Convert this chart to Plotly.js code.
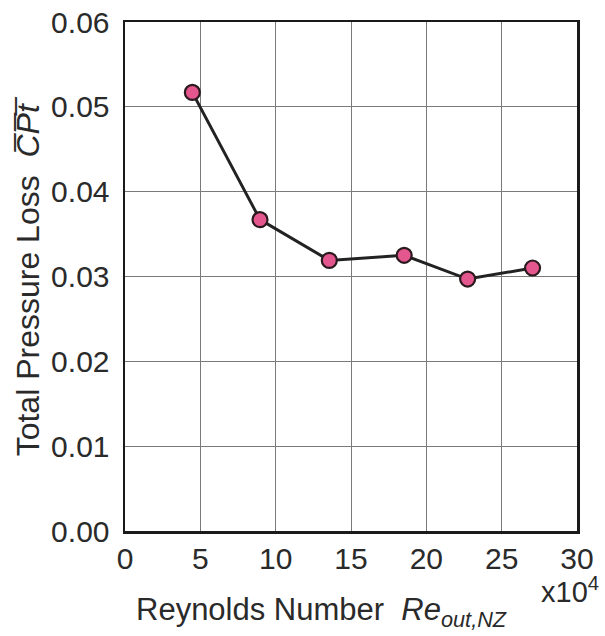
<!DOCTYPE html>
<html>
<head>
<meta charset="utf-8">
<script src="https://cdn.plot.ly/plotly-3.0.1.min.js"></script>
<style>html,body{margin:0;padding:0;background:#fff;}#chart{width:605px;height:636px;}</style>
</head>
<body>
<div id="chart"></div>
<script>
// Data
const reynolds = [4.47, 8.96, 13.56, 18.53, 22.74, 27.05];   // x10^4
const pressureLoss = [0.0517, 0.0367, 0.0319, 0.0325, 0.0297, 0.0310];
const xTicks = [0, 5, 10, 15, 20, 25, 30];
const yTicks = [0.00, 0.01, 0.02, 0.03, 0.04, 0.05, 0.06];

const FONT = '"Liberation Sans", Arial, sans-serif';

const trace = {
  x: reynolds,
  y: pressureLoss,
  type: 'scatter',
  mode: 'lines+markers',
  line: {color: '#222222', width: 3},
  marker: {size: 15, color: '#e4568e', line: {color: '#2a1a1e', width: 2.2}},
  cliponaxis: false,
  hoverinfo: 'x+y'
};

const layout = {
  width: 605, height: 636,
  margin: {l: 125, r: 28, t: 22, b: 105},
  paper_bgcolor: '#ffffff',
  plot_bgcolor: '#ffffff',
  showlegend: false,
  font: {family: FONT, color: '#2a2a2a', size: 30},
  xaxis: {
    range: [0, 30],
    tickvals: xTicks,
    ticktext: xTicks.map(String),
    showgrid: true, gridcolor: '#7a7a7a', gridwidth: 1,
    zeroline: false,
    showline: true, linecolor: '#1a1a1a', linewidth: 2.5, mirror: true,
    ticks: '', ticklabelstandoff: -1,
    tickfont: {family: FONT, size: 30, color: '#2a2a2a'},
    fixedrange: true
  },
  yaxis: {
    range: [0, 0.06],
    tickvals: yTicks,
    ticktext: yTicks.map(v => v.toFixed(2)),
    showgrid: true, gridcolor: '#7a7a7a', gridwidth: 1,
    zeroline: false,
    showline: true, linecolor: '#1a1a1a', linewidth: 2.5, mirror: true,
    ticks: '', ticklabelstandoff: 7,
    tickfont: {family: FONT, size: 30, color: '#2a2a2a'},
    fixedrange: true
  },
  annotations: [
    {
      text: 'Reynolds Number  <i>Re</i><sub><i>out,NZ</i></sub>',
      xref: 'paper', yref: 'paper', x: 0.02, y: -0.16,
      xanchor: 'left', yanchor: 'middle', showarrow: false,
      font: {family: FONT, size: 31, color: '#2a2a2a'}
    },
    {
      text: 'x10<sup>4</sup>',
      xref: 'paper', yref: 'paper', x: 1.053, y: -0.115,
      xanchor: 'right', yanchor: 'middle', showarrow: false,
      font: {family: FONT, size: 29, color: '#2a2a2a'}
    },
    {
      text: 'Total Pressure Loss  <i>C\u0305P\u0305t\u0305</i>',
      xref: 'paper', yref: 'paper', x: -0.215, y: 0.5,
      xanchor: 'center', yanchor: 'middle', textangle: -90, showarrow: false,
      font: {family: FONT, size: 32, color: '#2a2a2a'}
    }
  ]
};

Plotly.newPlot('chart', [trace], layout, {displayModeBar: false, staticPlot: true});
</script>
</body>
</html>
